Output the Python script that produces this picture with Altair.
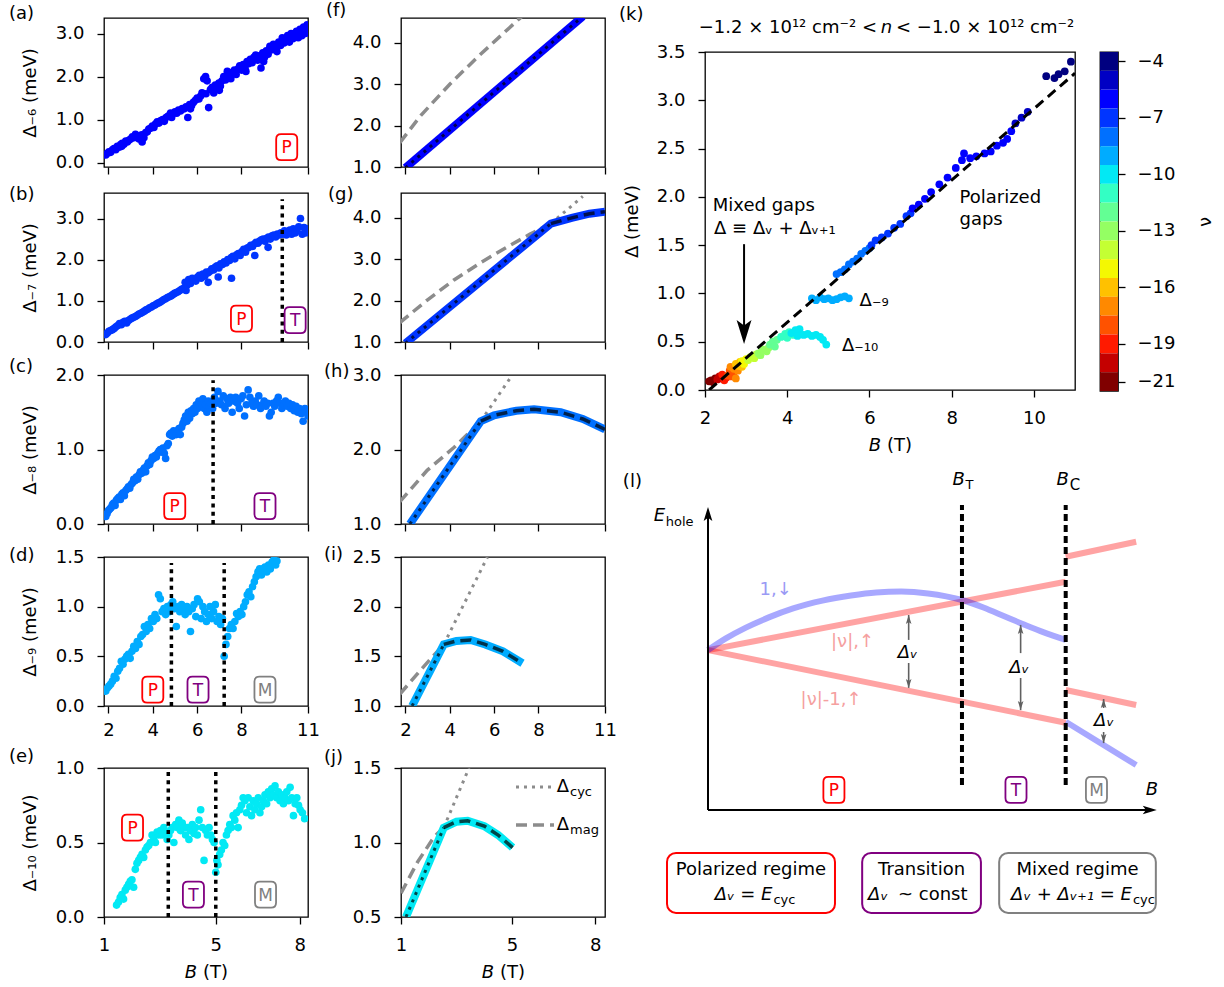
import altair as alt
import numpy as np
import pandas as pd

FONT = "DejaVu Sans"
FS = 18
SUB = 13
GREY = "#8c8c8c"

# ---------------- data: left column, measured gaps (B [T], gap [meV]) ----------------
A_PTS = [(1.88,0.18),(1.95,0.22),(2.02,0.25),(2.1,0.24),(2.18,0.3),(2.25,0.33),(2.33,0.3),(2.4,0.38),(2.48,0.36),(2.55,0.42),(2.62,0.45),(2.7,0.43),(2.78,0.5),(2.85,0.48),(2.92,0.52),(3.0,0.55),(3.08,0.6),(3.15,0.58),(3.22,0.66),(3.3,0.62),(3.38,0.55),(3.45,0.6),(3.52,0.48),(3.6,0.58),(3.68,0.7),(3.75,0.72),(3.82,0.78),(3.9,0.8),(3.98,0.85),(4.05,0.82),(4.12,0.9),(4.2,0.95),(4.28,0.92),(4.36,0.98),(4.45,1.0),(4.52,0.96),(4.6,1.05),(4.68,1.08),(4.76,1.1),(4.85,1.05),(4.92,1.14),(5.0,1.18),(5.08,1.15),(5.16,1.22),(5.25,1.2),(5.33,1.26),(5.42,1.25),(5.5,1.3),(5.58,1.05),(5.66,1.35),(5.75,1.33),(5.83,1.4),(5.92,1.45),(6.0,1.5),(6.08,1.48),(6.16,1.55),(6.22,1.62),(6.3,1.95),(6.38,2.0),(6.45,1.9),(6.52,1.28),(6.6,1.7),(6.68,1.75),(6.75,1.62),(6.82,1.8),(6.9,1.72),(6.98,1.85),(7.05,1.78),(7.12,1.9),(7.2,2.0),(7.28,1.92),(7.36,2.12),(7.45,2.05),(7.52,1.95),(7.6,2.1),(7.68,2.15),(7.76,2.05),(7.85,2.18),(7.92,2.25),(8.0,2.15),(8.08,2.28),(8.16,2.2),(8.25,2.35),(8.32,2.3),(8.4,2.4),(8.48,2.32),(8.56,2.45),(8.64,2.5),(8.72,2.38),(8.8,2.48),(8.88,2.2),(8.96,2.55),(9.04,2.45),(9.12,2.6),(9.2,2.52),(9.28,2.7),(9.36,2.62),(9.44,2.75),(9.52,2.66),(9.6,2.58),(9.68,2.8),(9.76,2.72),(9.84,2.9),(9.92,2.78),(10.0,2.85),(10.08,2.95),(10.16,2.8),(10.24,3.0),(10.32,2.88),(10.4,2.95),(10.48,3.05),(10.56,2.9),(10.64,3.1),(10.72,2.95),(10.8,3.15),(10.88,3.0),(10.96,3.2),(11.0,3.05),(9.0,2.35),(8.2,2.12),(7.0,1.68),(6.4,1.6),(5.7,1.25),(4.8,1.15),(3.5,0.65),(2.6,0.38)]

B_PTS = [(1.88,0.18),(1.95,0.22),(2.02,0.26),(2.1,0.28),(2.18,0.3),(2.26,0.33),(2.34,0.37),(2.42,0.4),(2.5,0.45),(2.58,0.42),(2.66,0.48),(2.74,0.5),(2.82,0.46),(2.9,0.52),(2.98,0.55),(3.06,0.58),(3.14,0.6),(3.22,0.62),(3.3,0.65),(3.38,0.68),(3.46,0.7),(3.54,0.72),(3.62,0.75),(3.7,0.78),(3.78,0.8),(3.86,0.83),(3.94,0.85),(4.02,0.88),(4.1,0.9),(4.18,0.93),(4.26,0.95),(4.34,0.97),(4.42,1.0),(4.5,1.03),(4.58,1.05),(4.66,1.08),(4.74,1.1),(4.82,1.12),(4.9,1.15),(4.98,1.18),(5.06,1.2),(5.14,1.22),(5.22,1.25),(5.3,1.28),(5.38,1.3),(5.46,1.45),(5.54,1.38),(5.62,1.52),(5.7,1.42),(5.78,1.55),(5.86,1.5),(5.94,1.48),(6.02,1.58),(6.1,1.62),(6.18,1.55),(6.26,1.65),(6.34,1.6),(6.42,1.7),(6.5,1.68),(6.58,1.72),(6.66,1.78),(6.74,1.75),(6.82,1.82),(6.9,1.85),(6.98,1.8),(7.06,1.9),(7.14,1.88),(7.22,1.95),(7.3,1.92),(7.38,2.0),(7.46,1.98),(7.54,2.05),(7.62,2.08),(7.7,2.02),(7.78,2.12),(7.86,2.15),(7.94,2.1),(8.02,2.2),(8.1,2.25),(8.18,2.18),(8.26,2.28),(8.34,2.3),(8.42,2.35),(8.5,2.32),(8.58,2.38),(8.66,2.42),(8.74,2.4),(8.82,2.45),(8.9,2.48),(8.98,2.5),(9.06,2.45),(9.14,2.52),(9.22,2.55),(9.3,2.5),(9.38,2.58),(9.46,2.6),(9.54,2.55),(9.62,2.62),(9.7,2.6),(9.78,2.65),(9.86,2.62),(9.94,2.7),(10.02,2.6),(10.1,2.68),(10.18,2.72),(10.26,2.62),(10.34,2.75),(10.42,2.65),(10.5,2.7),(10.58,2.8),(10.66,3.0),(10.74,2.62),(10.82,2.78),(10.9,2.65),(10.98,2.75),(6.95,1.58),(7.55,1.55),(6.5,1.45),(5.5,1.25),(8.6,2.1),(9.2,2.3)]

C_PTS = [(1.88,0.1),(1.94,0.14),(2.0,0.18),(2.06,0.2),(2.12,0.22),(2.18,0.26),(2.24,0.28),(2.3,0.25),(2.36,0.32),(2.42,0.34),(2.48,0.36),(2.54,0.33),(2.6,0.4),(2.66,0.42),(2.72,0.38),(2.78,0.45),(2.84,0.47),(2.9,0.5),(2.96,0.48),(3.02,0.53),(3.08,0.55),(3.14,0.6),(3.2,0.58),(3.26,0.63),(3.32,0.6),(3.38,0.66),(3.44,0.7),(3.5,0.68),(3.56,0.72),(3.62,0.75),(3.68,0.7),(3.74,0.78),(3.8,0.82),(3.86,0.8),(3.92,0.85),(3.98,0.9),(4.04,0.88),(4.1,0.92),(4.16,0.9),(4.22,0.95),(4.28,0.98),(4.34,1.0),(4.4,0.97),(4.46,1.02),(4.52,0.95),(4.58,0.88),(4.64,1.05),(4.7,1.08),(4.76,1.2),(4.82,1.22),(4.88,1.18),(4.94,1.25),(5.0,1.22),(5.06,1.2),(5.12,1.25),(5.18,1.28),(5.24,1.2),(5.3,1.3),(5.36,1.35),(5.42,1.4),(5.48,1.45),(5.54,1.38),(5.6,1.5),(5.66,1.42),(5.72,1.52),(5.78,1.48),(5.84,1.55),(5.9,1.5),(5.96,1.6),(6.02,1.55),(6.08,1.65),(6.14,1.58),(6.2,1.62),(6.26,1.68),(6.32,1.55),(6.38,1.6),(6.44,1.5),(6.5,1.65),(6.56,1.58),(6.62,1.62),(6.7,1.55),(6.78,1.7),(6.86,1.62),(6.94,1.78),(7.02,1.65),(7.1,1.6),(7.18,1.72),(7.26,1.55),(7.34,1.68),(7.42,1.62),(7.5,1.7),(7.58,1.5),(7.66,1.65),(7.74,1.7),(7.82,1.62),(7.9,1.55),(7.98,1.68),(8.06,1.72),(8.14,1.45),(8.22,1.6),(8.3,1.8),(8.38,1.7),(8.46,1.62),(8.54,1.58),(8.62,1.65),(8.7,1.6),(8.78,1.72),(8.86,1.55),(8.94,1.6),(9.02,1.65),(9.1,1.58),(9.18,1.62),(9.26,1.45),(9.34,1.5),(9.42,1.62),(9.5,1.58),(9.58,1.65),(9.66,1.7),(9.74,1.62),(9.82,1.55),(9.9,1.6),(9.98,1.65),(10.06,1.58),(10.14,1.62),(10.22,1.55),(10.3,1.6),(10.38,1.52),(10.46,1.58),(10.54,1.5),(10.62,1.55),(10.7,1.48),(10.78,1.38),(10.86,1.55),(10.94,1.5),(11.0,1.45)]

D_PTS = [(1.88,0.15),(1.95,0.18),(2.02,0.2),(2.1,0.22),(2.18,0.25),(2.26,0.3),(2.34,0.28),(2.42,0.35),(2.5,0.38),(2.58,0.45),(2.66,0.42),(2.74,0.47),(2.82,0.5),(2.9,0.52),(2.98,0.48),(3.06,0.55),(3.14,0.6),(3.22,0.58),(3.3,0.65),(3.38,0.62),(3.46,0.7),(3.54,0.72),(3.62,0.8),(3.7,0.75),(3.78,0.82),(3.86,0.78),(3.94,0.88),(4.02,0.85),(4.1,0.92),(4.18,0.88),(4.26,1.12),(4.34,1.08),(4.42,0.95),(4.5,0.98),(4.58,0.92),(4.66,1.0),(4.74,0.95),(4.82,1.02),(4.9,1.05),(4.98,0.98),(5.06,0.8),(5.14,1.0),(5.22,0.95),(5.3,1.02),(5.38,0.98),(5.46,0.92),(5.54,1.0),(5.62,0.95),(5.7,0.75),(5.78,0.98),(5.86,1.02),(5.94,0.9),(6.02,1.08),(6.1,1.05),(6.18,0.88),(6.26,1.0),(6.34,0.95),(6.42,0.85),(6.5,0.92),(6.58,1.0),(6.66,0.88),(6.74,0.95),(6.82,1.02),(6.9,0.85),(6.98,0.9),(7.06,0.82),(7.14,0.88),(7.22,0.5),(7.3,0.62),(7.38,0.7),(7.46,0.78),(7.54,0.82),(7.62,0.78),(7.7,0.85),(7.78,0.93),(7.86,0.9),(7.94,0.95),(8.02,0.92),(8.1,1.0),(8.18,1.05),(8.26,1.12),(8.34,1.15),(8.42,1.1),(8.5,1.2),(8.58,1.25),(8.66,1.3),(8.74,1.35),(8.82,1.38),(8.9,1.32),(8.98,1.38),(9.06,1.4),(9.14,1.35),(9.22,1.42),(9.3,1.38),(9.38,1.45),(9.46,1.47),(9.54,1.42),(9.6,1.46)]

E_PTS = [(1.45,0.08),(1.52,0.1),(1.58,0.13),(1.64,0.15),(1.7,0.12),(1.76,0.18),(1.82,0.2),(1.88,0.22),(1.94,0.24),(2.0,0.25),(2.06,0.2),(2.12,0.32),(2.18,0.36),(2.24,0.38),(2.3,0.4),(2.36,0.42),(2.42,0.4),(2.48,0.45),(2.54,0.47),(2.6,0.48),(2.66,0.5),(2.72,0.55),(2.78,0.52),(2.84,0.5),(2.9,0.57),(2.96,0.55),(3.02,0.58),(3.08,0.55),(3.14,0.6),(3.2,0.57),(3.26,0.52),(3.32,0.55),(3.38,0.58),(3.44,0.6),(3.5,0.5),(3.56,0.62),(3.62,0.6),(3.68,0.65),(3.74,0.58),(3.8,0.63),(3.86,0.6),(3.92,0.55),(3.98,0.6),(4.04,0.52),(4.1,0.58),(4.16,0.62),(4.22,0.56),(4.28,0.6),(4.34,0.55),(4.4,0.65),(4.46,0.72),(4.52,0.6),(4.58,0.38),(4.64,0.58),(4.7,0.55),(4.76,0.6),(4.82,0.55),(4.88,0.52),(4.94,0.5),(5.0,0.3),(5.04,0.38),(5.08,0.35),(5.14,0.42),(5.2,0.45),(5.26,0.5),(5.32,0.48),(5.38,0.55),(5.44,0.58),(5.5,0.62),(5.56,0.6),(5.62,0.68),(5.68,0.65),(5.74,0.7),(5.8,0.6),(5.86,0.72),(5.92,0.75),(5.98,0.8),(6.04,0.78),(6.1,0.7),(6.16,0.8),(6.22,0.74),(6.28,0.68),(6.34,0.78),(6.4,0.72),(6.46,0.76),(6.52,0.8),(6.58,0.7),(6.64,0.74),(6.7,0.78),(6.76,0.82),(6.82,0.76),(6.88,0.84),(6.94,0.8),(7.0,0.86),(7.06,0.82),(7.12,0.88),(7.18,0.8),(7.24,0.84),(7.3,0.78),(7.36,0.82),(7.42,0.76),(7.48,0.8),(7.54,0.84),(7.6,0.78),(7.66,0.87),(7.72,0.8),(7.78,0.68),(7.84,0.76),(7.9,0.8),(7.96,0.75),(8.02,0.72),(8.1,0.7),(8.18,0.66)]

# regime boundaries (dotted lines) and regime tags (tag, B, gap)
VL_B = [9.84]; VL_C = [6.72]; VL_D = [4.84, 7.22]; VL_E = [3.3, 5.0]
TAGS_A = [("P", 10.04, 0.36)]
TAGS_B = [("P", 8.0, 0.57), ("T", 10.42, 0.53)]
TAGS_C = [("P", 4.99, 0.24), ("T", 9.06, 0.24)]
TAGS_D = [("P", 4.0, 0.165), ("T", 6.04, 0.165), ("M", 9.06, 0.165)]
TAGS_E = [("P", 2.02, 0.6), ("T", 4.2, 0.15), ("M", 6.78, 0.15)]

# ---------------- data: middle column, model gaps ----------------
F_CYC_ON = [(2.0, 0.98), (10.0, 4.64)]
F_MAG_OFF = [(1.75, 1.59), (2.7, 2.25), (4.0, 3.0), (5.24, 3.65), (7.13, 4.58), (7.3, 4.66)]
G_CYC_ON = [(2.0, 0.97), (8.56, 3.86)]
G_CYC_OFF = [(8.56, 3.86), (10.0, 4.52)]
G_MAG_OFF = [(1.75, 1.47), (3.0, 2.02), (4.19, 2.5), (5.4, 2.92), (6.6, 3.3), (7.6, 3.6), (8.56, 3.86)]
G_MAG_ON = [(8.56, 3.86), (9.5, 4.0), (10.3, 4.1), (11.0, 4.15)]
H_CYC_ON = [(2.2, 1.0), (5.4, 2.38)]
H_CYC_OFF = [(5.4, 2.38), (6.75, 2.97)]
H_MAG_OFF = [(1.75, 1.3), (2.98, 1.72), (4.2, 2.03), (5.4, 2.38)]
H_MAG_ON = [(5.4, 2.38), (6.0, 2.46), (7.0, 2.52), (7.8, 2.54), (9.0, 2.5), (10.0, 2.41), (11.0, 2.27)]
I_CYC_ON = [(2.3, 1.0), (3.73, 1.62)]
I_CYC_OFF = [(3.73, 1.62), (5.7, 2.5)]
I_MAG_OFF = [(1.75, 1.12), (2.68, 1.36), (3.36, 1.53), (3.73, 1.62)]
I_MAG_ON = [(3.73, 1.62), (4.3, 1.655), (4.94, 1.665), (5.6, 1.62), (6.4, 1.55), (7.28, 1.43)]
J_CYC_ON = [(1.18, 0.5), (2.54, 1.10)]
J_CYC_OFF = [(2.54, 1.10), (3.45, 1.5)]
J_MAG_OFF = [(1.0, 0.66), (1.6, 0.87), (2.2, 1.04), (2.54, 1.10)]
J_MAG_ON = [(2.54, 1.10), (3.0, 1.14), (3.4, 1.146), (4.0, 1.11), (4.5, 1.05), (5.02, 0.966)]

# ---------------- data: panel (k) (B, gap, filling factor nu) ----------------
K_PTS = [(2.1,0.09,-21),(2.15,0.1,-21),(2.2,0.08,-21),(2.25,0.12,-21),
         (2.3,0.11,-20),(2.35,0.14,-20),(2.4,0.12,-20),
         (2.42,0.16,-19),(2.47,0.1,-19),(2.52,0.13,-19),
         (2.55,0.15,-18),(2.6,0.2,-18),(2.65,0.14,-18),(2.7,0.18,-18),
         (2.62,0.24,-17),(2.7,0.22,-17),(2.75,0.12,-17),(2.8,0.2,-17),
         (2.75,0.27,-16),(2.8,0.25,-16),(2.85,0.29,-16),(2.9,0.24,-16),
         (2.9,0.3,-15),(2.95,0.27,-15),(3.0,0.32,-15),
         (3.05,0.31,-14),(3.1,0.34,-14),(3.2,0.33,-14),(3.25,0.37,-14),
         (3.3,0.38,-13),(3.35,0.36,-13),(3.4,0.42,-13),(3.5,0.4,-13),(3.55,0.44,-13),
         (3.58,0.47,-12),(3.65,0.5,-12),(3.7,0.45,-12),(3.75,0.52,-12),
         (3.85,0.55,-11),(3.95,0.58,-11),(4.0,0.54,-11),(4.05,0.6,-11),(4.15,0.57,-11),
         (4.1,0.59,-10),(4.2,0.62,-10),(4.3,0.63,-10),(4.25,0.56,-10),(4.4,0.57,-10),(4.5,0.58,-10),(4.6,0.56,-10),(4.7,0.57,-10),(4.8,0.55,-10),(4.87,0.52,-10),(4.95,0.47,-10),
         (4.6,0.95,-9),(4.7,0.93,-9),(4.8,0.96,-9),(4.9,0.94,-9),(5.0,0.95,-9),(5.1,0.93,-9),(5.2,0.94,-9),(5.3,0.96,-9),(5.4,0.97,-9),(5.5,0.95,-9),
         (5.2,1.2,-8),(5.3,1.22,-8),(5.4,1.25,-8),(5.5,1.3,-8),(5.6,1.33,-8),(5.7,1.36,-8),(5.8,1.41,-8),(5.9,1.44,-8),(6.0,1.47,-8),
         (6.05,1.5,-7),(6.15,1.55,-7),(6.3,1.58,-7),(6.45,1.62,-7),(6.6,1.68,-7),(6.75,1.72,-7),(6.9,1.8,-7),(7.0,1.83,-7),
         (7.05,1.88,-6),(7.2,1.92,-6),(7.35,1.98,-6),(7.5,2.05,-6),(7.7,2.13,-6),(7.9,2.2,-6),(8.1,2.3,-6),(8.25,2.38,-6),(8.3,2.45,-6),(8.45,2.4,-6),(8.6,2.42,-6),(8.8,2.45,-6),(8.95,2.47,-6),(9.1,2.53,-6),(9.25,2.56,-6),(9.35,2.6,-6),(9.45,2.68,-6),
         (9.55,2.76,-5),(9.7,2.82,-5),(9.85,2.88,-5),
         (10.3,3.25,-4),(10.5,3.23,-4),(10.6,3.27,-4),(10.75,3.3,-4),(10.9,3.4,-4)]
K_FIT = [(2.1, 0.0), (11.0, 3.28)]
CB_TICKS = [-4, -7, -10, -13, -16, -19, -21]

# ---------------- data: schematic (l) in arbitrary units ----------------
SCH_RED = [[(0, 5.33), (10, 7.61)], [(0, 5.33), (10, 2.91)], [(10, 8.44), (11.97, 8.94)], [(10, 4.0), (11.97, 3.5)]]
SCH_BLUE = [[(0,5.33),(0.5,5.72),(1.06,6.08),(1.7,6.42),(2.38,6.72),(3.2,6.98),(4.0,7.15),(4.7,7.25),(5.4,7.28),(6.15,7.22),(7.1,7.0),(7.7,6.75),(8.3,6.45),(8.9,6.15),(9.39,5.92),(10,5.67)],
            [(10, 2.94), (11.97, 1.5)]]
SCH_BFIELDS = [(7.1, 0.83, 10.17), (10.0, 0.83, 10.17)]
SCH_ARROWS = [(5.61, 6.5, 5.67, 4.9, 4.07), (8.74, 6.17, 5.23, 4.4, 3.33), (11.06, 3.7, 3.4, 2.6, 2.23)]
SCH_DLABELS = [(5.58, 5.25), (8.7, 4.75), (11.07, 2.98)]
SCH_TAGS = [("P", 3.52, 0.67), ("T", 8.61, 0.67), ("M", 10.86, 0.67)]
SCH_BOXES = [(-1.146, 3.55, "#ff0000"), (4.31, 7.63, "#800080"), (8.14, 12.52, "#808080")]


# ---------------- styles ----------------
def jet(t):
    r = np.interp(t, [0, 0.35, 0.66, 0.89, 1], [0, 0, 1, 1, 0.5])
    g = np.interp(t, [0, 0.125, 0.375, 0.64, 0.91, 1], [0, 0, 1, 1, 0, 0])
    b = np.interp(t, [0, 0.11, 0.34, 0.65, 1], [0.5, 1, 1, 0, 0])
    return "#{:02x}{:02x}{:02x}".format(int(round(r * 255)), int(round(g * 255)), int(round(b * 255)))


NU_LEVELS = list(range(-4, -22, -1))
NU_COLORS = [jet((-4 - v) / 17.0) for v in NU_LEVELS]


def nucol(v):
    return NU_COLORS[NU_LEVELS.index(v)]


TAG_COLORS = {"P": "#ff0000", "T": "#800080", "M": "#808080"}
BOX_PATH = ("M -0.43,-1 L 0.43,-1 Q 0.81,-1 0.81,-0.62 L 0.81,0.62 Q 0.81,1 0.43,1 "
            "L -0.43,1 Q -0.81,1 -0.81,0.62 L -0.81,-0.62 Q -0.81,-1 -0.43,-1 Z")
HEAD_PATH = "M 0,-1 L 0.62,1 L 0,0.55 L -0.62,1 Z"
W, H = 204, 149
NOFRAME = alt.ViewBackground(stroke="transparent")


def lin(dom):
    return alt.Scale(domain=list(dom), nice=False, zero=False)


def pdf(pairs):
    return pd.DataFrame(pairs, columns=["B", "D"])


def tdf(text, **cols):
    d = {"t": [text]}
    for k, v in cols.items():
        d[k] = [v]
    return pd.DataFrame(d)


def txt_px(text, x, y, size=FS, style="normal", align="left", color="black"):
    return alt.Chart(tdf(text)).mark_text(font=FONT, fontSize=size, fontStyle=style, align=align,
                                          baseline="middle", color=color).encode(
        x=alt.value(x), y=alt.value(y), text="t:N")


def txt_at(text, b, d, X, Y, size=FS, style="normal", align="center", color="black"):
    return alt.Chart(tdf(text, B=b, D=d)).mark_text(font=FONT, fontSize=size, fontStyle=style, align=align,
                                                    baseline="middle", color=color).encode(
        x=X, y=Y, text="t:N")


def btitle(cx, cy):
    return [txt_px("B", cx - 9, cy, style="italic", align="right"), txt_px("(T)", cx - 3, cy, align="left")]


def tag_layers(tags, X, Y):
    out = []
    for tag, b, d in tags:
        col = TAG_COLORS[tag]
        df = tdf(tag, B=b, D=d)
        out.append(alt.Chart(df).mark_point(shape=BOX_PATH, size=676, filled=True, fill="white", stroke=col,
                                            strokeWidth=1.8, opacity=1).encode(x=X, y=Y))
        out.append(alt.Chart(df).mark_text(font=FONT, fontSize=17, color=col, align="center",
                                           baseline="middle", dy=1).encode(x=X, y=Y, text="t:N"))
    return out


def scatter_panel(label, lxy, pts, color, xdom, xvals, xlabels, ydom, yvals, ytitle,
                  vlines=(), vtop=None, tags=(), xtitle=False, xpad=8):
    X = alt.X("B:Q", scale=lin(xdom), axis=alt.Axis(values=xvals, labels=xlabels, format="d", title=None,
                                                   labelPadding=xpad))
    Y = alt.Y("D:Q", scale=lin(ydom), axis=alt.Axis(values=yvals, format=".1f", title=ytitle, titlePadding=16))
    layers = [alt.Chart(pdf(pts)).mark_circle(size=58, color=color, opacity=1, clip=True).encode(x=X, y=Y)]
    if vlines:
        df = pd.DataFrame({"B": list(vlines), "D": [ydom[0]] * len(vlines), "D2": [vtop] * len(vlines)})
        layers.append(alt.Chart(df).mark_rule(color="black", strokeWidth=3.5, strokeDash=[4, 4.3]).encode(
            x=X, y=Y, y2="D2:Q"))
    layers += tag_layers(tags, X, Y)
    layers.append(txt_px(label, lxy[0], lxy[1]))
    if xtitle:
        layers += btitle(W / 2, H + 56)
    return alt.layer(*layers).properties(width=W, height=H)


def model_panel(label, lxy, color, xdom, xvals, xlabels, ydom, yvals, cyc_on, cyc_off, mag_off, mag_on,
                xtitle=False, legend=False, xpad=8):
    X = alt.X("B:Q", scale=lin(xdom), axis=alt.Axis(values=xvals, labels=xlabels, format="d", title=None,
                                                   labelPadding=xpad))
    Y = alt.Y("D:Q", scale=lin(ydom), axis=alt.Axis(values=yvals, format=".1f", title=None))

    def line(pairs, **kw):
        return alt.Chart(pdf(pairs)).mark_line(clip=True, **kw).encode(x=X, y=Y)

    layers = []
    if mag_off:
        layers.append(line(mag_off, color=GREY, strokeWidth=3.5, strokeDash=[11, 6]))
    if cyc_off:
        layers.append(line(cyc_off, color=GREY, strokeWidth=3, strokeDash=[3, 5]))
    blue = cyc_on + (mag_on[1:] if mag_on else [])
    layers.append(line(blue, color=color, strokeWidth=8))
    layers.append(line(cyc_on, color="black", strokeWidth=3, strokeDash=[3, 5], opacity=0.7))
    if mag_on:
        layers.append(line(mag_on, color="black", strokeWidth=3.5, strokeDash=[11, 6], opacity=0.7))
    layers.append(txt_px(label, lxy[0], lxy[1]))
    if legend:
        one = pd.DataFrame({"a": [0]})
        layers.append(alt.Chart(one).mark_rule(color=GREY, strokeWidth=3, strokeDash=[3, 5]).encode(
            x=alt.value(115), x2=alt.value(153), y=alt.value(19)))
        layers.append(alt.Chart(one).mark_rule(color=GREY, strokeWidth=3.5, strokeDash=[11, 6]).encode(
            x=alt.value(115), x2=alt.value(153), y=alt.value(57)))
        layers += [txt_px("Δ", 168, 19, align="right"), txt_px("cyc", 169, 24, size=SUB),
                   txt_px("Δ", 168, 57, align="right"), txt_px("mag", 169, 62, size=SUB)]
    if xtitle:
        layers += btitle(W / 2, H + 56)
    return alt.layer(*layers).properties(width=W, height=H)


XL11 = [1.8, 11.0]
XV11 = [2, 4, 6, 8, 11]

pa = scatter_panel("(a)", (-95, -4), A_PTS, nucol(-6), XL11, XV11, False, [-0.1, 3.36], [0, 1, 2, 3],
                   "Δ₋₆ (meV)", tags=TAGS_A)
pb = scatter_panel("(b)", (-95, 2), B_PTS, nucol(-7), XL11, XV11, False, [0, 3.62], [0, 1, 2, 3],
                   "Δ₋₇ (meV)", vlines=VL_B, vtop=3.47, tags=TAGS_B)
pc = scatter_panel("(c)", (-95, -8), C_PTS, nucol(-8), XL11, XV11, False, [0, 2.0], [0, 1, 2],
                   "Δ₋₈ (meV)", vlines=VL_C, vtop=1.93, tags=TAGS_C)
pd_ = scatter_panel("(d)", (-95, -1), D_PTS, nucol(-9), XL11, XV11, True, [0, 1.5], [0, 0.5, 1, 1.5],
                    "Δ₋₉ (meV)", vlines=VL_D, vtop=1.44, tags=TAGS_D)
pe = scatter_panel("(e)", (-95, -11), E_PTS, nucol(-10), [1, 8.3], [1, 5, 8], True, [0, 1.0], [0, 0.5, 1],
                   "Δ₋₁₀ (meV)", vlines=VL_E, vtop=0.975, tags=TAGS_E, xtitle=True, xpad=12)

pf = model_panel("(f)", (-75, -7), nucol(-6), XL11, XV11, False, [1, 4.6], [1, 2, 3, 4],
                 F_CYC_ON, [], F_MAG_OFF, [])
pg = model_panel("(g)", (-73, 2), nucol(-7), XL11, XV11, False, [1, 4.6], [1, 2, 3, 4],
                 G_CYC_ON, G_CYC_OFF, G_MAG_OFF, G_MAG_ON)
ph = model_panel("(h)", (-77, -3), nucol(-8), XL11, XV11, False, [1, 3], [1, 2, 3],
                 H_CYC_ON, H_CYC_OFF, H_MAG_OFF, H_MAG_ON)
pi = model_panel("(i)", (-77, -2), nucol(-9), XL11, XV11, True, [1, 2.5], [1, 1.5, 2, 2.5],
                 I_CYC_ON, I_CYC_OFF, I_MAG_OFF, I_MAG_ON)
pj = model_panel("(j)", (-77, -10), nucol(-10), [1, 8.35], [1, 5, 8], True, [0.5, 1.5], [0.5, 1, 1.5],
                 J_CYC_ON, J_CYC_OFF, J_MAG_OFF, J_MAG_ON, xtitle=True, legend=True, xpad=12)


def row(l, r):
    return alt.hconcat(l, r, spacing=93, bounds="flush")


grid = alt.vconcat(row(pa, pf),
                   alt.vconcat(row(pb, pg),
                               alt.vconcat(row(pc, ph),
                                           alt.vconcat(row(pd_, pi), row(pe, pj), spacing=7),
                                           spacing=11),
                               spacing=5),
                   spacing=8)

# ---------------- panel (k) ----------------
KW, KH = 370, 338
header = alt.layer(
    txt_px("(k)", -86, -3.5),
    txt_px("−1.2 × 10¹² cm⁻² <", 172, 10, align="right"),
    txt_px("n", 181.5, 10, style="italic", align="center"),
    txt_px("< −1.0 × 10¹² cm⁻²", 191, 10, align="left"),
).properties(width=KW, height=20, view=NOFRAME)

Xk = alt.X("B:Q", scale=lin([2, 11]), axis=alt.Axis(values=[2, 4, 6, 8, 10], format="d", title=None, labelPadding=12))
Yk = alt.Y("D:Q", scale=lin([0, 3.5]), axis=alt.Axis(values=[0, 0.5, 1, 1.5, 2, 2.5, 3, 3.5], format=".1f",
                                                   title="Δ (meV)", titlePadding=15))
NU_SCALE = alt.Scale(domain=NU_LEVELS, range=NU_COLORS)
kdf = pd.DataFrame(K_PTS, columns=["B", "D", "nu"])
k_layers = [
    alt.Chart(kdf).mark_circle(size=60, opacity=1, clip=True).encode(
        x=Xk, y=Yk, color=alt.Color("nu:O", scale=NU_SCALE, legend=None)),
    alt.Chart(pdf(K_FIT)).mark_line(color="black", strokeWidth=3, strokeDash=[10, 6], clip=True).encode(x=Xk, y=Yk),
    alt.Chart(pd.DataFrame({"B": [2.95], "D": [1.51], "D2": [0.64]})).mark_rule(color="black", strokeWidth=2).encode(
        x=Xk, y=Yk, y2="D2:Q"),
    alt.Chart(pdf([(2.95, 0.6)])).mark_point(shape=HEAD_PATH, size=576, filled=True, color="black", opacity=1,
                                             angle=180).encode(x=Xk, y=Yk),
    txt_at("Mixed gaps", 2.19, 1.905, Xk, Yk, align="left"),
    txt_at("Δ ≡ Δᵥ + Δᵥ₊₁", 2.22, 1.667, Xk, Yk, align="left"),
    txt_at("Polarized", 8.19, 1.99, Xk, Yk, align="left"),
    txt_at("gaps", 8.19, 1.76, Xk, Yk, align="left"),
    txt_at("Δ₋₉", 5.76, 0.92, Xk, Yk, align="left"),
    txt_at("Δ₋₁₀", 5.33, 0.455, Xk, Yk, align="left"),
] + btitle(KW / 2, KH + 56)
pk = alt.layer(*k_layers).properties(width=KW, height=KH)

cb_df = pd.DataFrame({"nu": NU_LEVELS, "lo": [v - 0.5 for v in NU_LEVELS], "hi": [v + 0.5 for v in NU_LEVELS]})
cbar = alt.Chart(cb_df).mark_rect().encode(
    y=alt.Y("lo:Q", scale=lin([-21.5, -3.5]),
            axis=alt.Axis(orient="right", values=CB_TICKS, format="d", title="ν", titleAngle=270,
                          titlePadding=40, labelPadding=12)),
    y2="hi:Q",
    x=alt.value(0), x2=alt.value(18),
    color=alt.Color("nu:O", scale=NU_SCALE, legend=None),
).properties(width=18, height=339)

# ---------------- panel (l): schematic + regime boxes ----------------
L_W, L_H = 510, 460
LX0 = (706 - 709) / 35.77
LX = [LX0, LX0 + L_W / 35.77]
LY = [-112 / 30.0, 348 / 30.0]
XL = alt.X("B:Q", scale=lin(LX), axis=None)
YL = alt.Y("D:Q", scale=lin(LY), axis=None)


def sch_lines(segs, **kw):
    rows = [(i, b, d) for i, s in enumerate(segs) for (b, d) in s]
    df = pd.DataFrame(rows, columns=["s", "B", "D"])
    return alt.Chart(df).mark_line(**kw).encode(x=XL, y=YL, detail="s:N")


def sch_rules(segs, **kw):
    df = pd.DataFrame(segs, columns=["B", "D", "B2", "D2"])
    return alt.Chart(df).mark_rule(**kw).encode(x=XL, y=YL, x2="B2:Q", y2="D2:Q")


def sch_heads(pts, size, color, angle):
    return alt.Chart(pdf(pts)).mark_point(shape=HEAD_PATH, size=size, filled=True, color=color, opacity=1,
                                          angle=angle).encode(x=XL, y=YL)


def tl(text, b, d, **kw):
    return txt_at(text, b, d, XL, YL, **kw)


l_layers = [
    sch_lines(SCH_RED, color="#ff0000", strokeWidth=6, strokeOpacity=0.36),
    sch_lines(SCH_BLUE, color="#0000ff", strokeWidth=6, strokeOpacity=0.34, interpolate="monotone"),
    sch_rules([(b, y1, b, y2) for b, y1, y2 in SCH_BFIELDS], color="black", strokeWidth=4, strokeDash=[7, 4]),
    sch_rules([(0, 0, 0, 9.9), (0, 0, 12.4, 0)], color="black", strokeWidth=2),
    sch_heads([(0, 9.87)], 196, "black", 0),
    sch_heads([(12.35, 0)], 196, "black", 90),
    sch_rules([(x, a, x, b) for x, a, b, c, d in SCH_ARROWS] + [(x, c, x, d) for x, a, b, c, d in SCH_ARROWS],
              color="#606060", strokeWidth=1.6),
    sch_heads([(x, a - 0.15) for x, a, b, c, d in SCH_ARROWS], 81, "#606060", 0),
    sch_heads([(x, d + 0.15) for x, a, b, c, d in SCH_ARROWS], 81, "#606060", 180),
]
for (x, y) in SCH_DLABELS:
    l_layers += [tl("Δᵥ", x, y, style="italic")]
l_layers += [
    tl("1,↓", 1.89, 7.32, color="#9a9af5"),
    tl("|ν|,↑", 4.04, 5.6, color="#f5a0a0"),
    tl("|ν|-1,↑", 3.44, 3.67, color="#f5a0a0"),
    tl("E", -1.2, 9.8, style="italic", align="right"),
    tl("hole", -1.18, 9.6, size=SUB, align="left"),
    tl("B", 12.41, 0.67, style="italic"),
    tl("B", 7.18, 11.0, style="italic", align="right"),
    tl("T", 7.2, 10.83, size=SUB, align="left"),
    tl("B", 10.09, 11.0, style="italic", align="right"),
    tl("C", 10.11, 10.85, size=15, align="left"),
    tl("(l)", -2.38, 10.93, align="left"),
]
l_layers += tag_layers(SCH_TAGS, XL, YL)
for x1, x2, col in SCH_BOXES:
    l_layers.append(alt.Chart(pd.DataFrame({"B": [x1], "B2": [x2], "D": [-1.43], "D2": [-3.43]})).mark_rect(
        cornerRadius=9, fill="white", stroke=col, strokeWidth=2).encode(x=XL, x2="B2:Q", y=YL, y2="D2:Q"))
l_layers += [
    tl("Polarized regime", 1.2, -2.0),
    tl("Δᵥ = E", 1.80, -2.83, style="italic", align="right"),
    tl("cyc", 1.83, -3.0, size=SUB, align="left"),
    tl("Transition", 5.97, -2.0),
    tl("Δᵥ", 5.03, -2.83, style="italic", align="right"),
    tl("~ const", 5.31, -2.83, align="left"),
    tl("Mixed regime", 10.33, -2.0),
    tl("Δᵥ + Δᵥ₊₁ = E", 11.85, -2.83, style="italic", align="right"),
    tl("cyc", 11.88, -3.0, size=SUB, align="left"),
]
pl = alt.layer(*l_layers).properties(width=L_W, height=L_H, view=NOFRAME)

rightcol = alt.vconcat(header,
                       alt.vconcat(alt.hconcat(pk, cbar, spacing=25, bounds="flush"), pl, spacing=5),
                       spacing=3)

chart = alt.hconcat(grid, rightcol, spacing=0).properties(
    padding={"left": 8, "top": 1, "right": 0, "bottom": 0}
).configure(font=FONT).configure_view(stroke="black", strokeWidth=1.3).configure_axis(
    domain=False, grid=False, ticks=True, tickColor="black", tickWidth=1.3, tickSize=7,
    labelFont=FONT, labelFontSize=FS, labelColor="black", labelPadding=13,
    titleFont=FONT, titleFontSize=FS, titleFontWeight="normal", titleColor="black",
    labelFlush=False, labelOverlap=False, titlePadding=12)

chart.save("out.html", embed_options={"renderer": "svg", "actions": False})
